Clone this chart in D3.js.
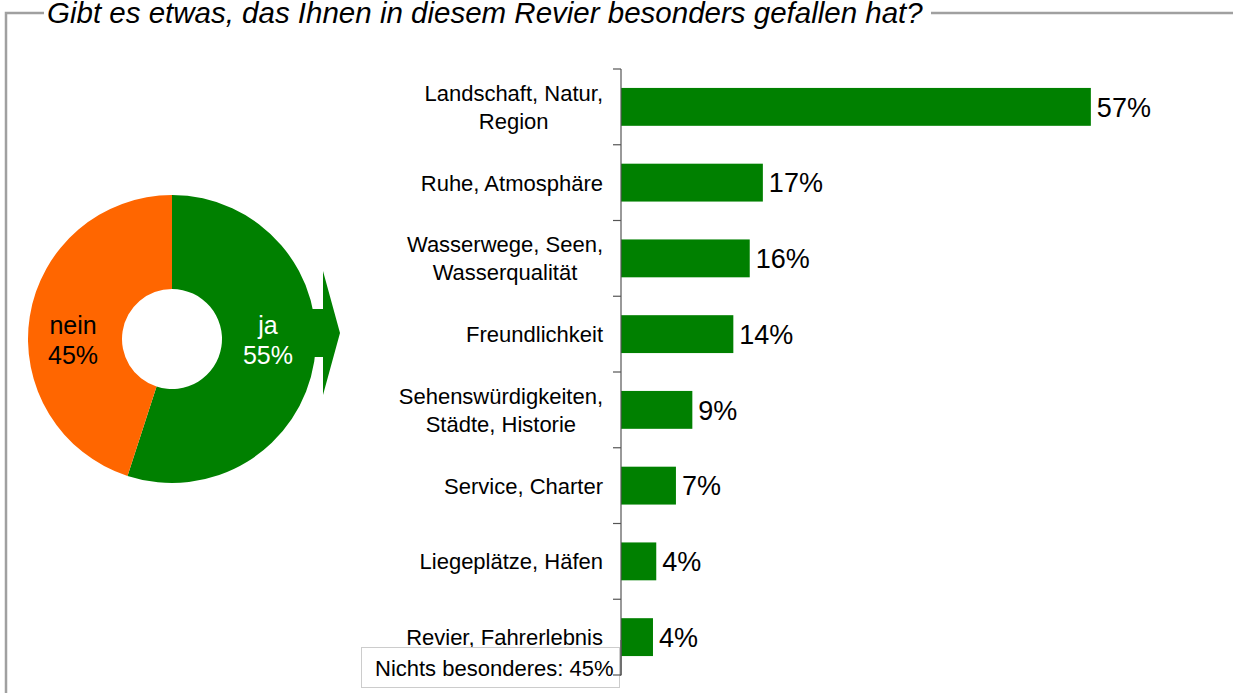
<!DOCTYPE html>
<html><head><meta charset="utf-8">
<script src="https://cdn.jsdelivr.net/npm/d3@7"></script>
<style>
html,body{margin:0;padding:0;background:#fff;}
svg{display:block;font-family:"Liberation Sans",Arial,sans-serif;}
</style></head>
<body>
<svg id="chart" width="1233" height="693"></svg>
<script>
// ---- data ----
const titleText = "Gibt es etwas, das Ihnen in diesem Revier besonders gefallen hat?";
const categories = [
  "Landschaft, Natur,\nRegion",
  "Ruhe, Atmosphäre",
  "Wasserwege, Seen,\nWasserqualität",
  "Freundlichkeit",
  "Sehenswürdigkeiten,\nStädte, Historie",
  "Service, Charter",
  "Liegeplätze, Häfen",
  "Revier, Fahrerlebnis"
];
const values = [57.3, 17.3, 15.7, 13.7, 8.7, 6.7, 4.3, 3.9];
const pieLabels = ["ja", "nein"];
const pieValues = [55, 45];
const noteText = "Nichts besonderes: 45%";

// ---- styles ----
const GREEN = "#008000", ORANGE = "#FF6600", FRAME = "#a0a0a0";

const svg = d3.select("#chart");

// frame
svg.append("path")
  .attr("d", "M6,693 L6,13 L44,13 M931,13 L1233,13")
  .attr("fill", "none").attr("stroke", FRAME).attr("stroke-width", 2.5);

svg.append("text")
  .attr("x", 47).attr("y", 22.5)
  .attr("font-size", 29.5).attr("font-style", "italic")
  .attr("fill", "#000")
  .text(titleText);

// ---- bar chart ----
const x = d3.scaleLinear().domain([0, 70]).range([621, 621 + 574]);
const y = d3.scaleBand().domain(categories).range([69, 675]).paddingInner(0.5).paddingOuter(0.25);

const g = svg.append("g");
g.selectAll("rect.bar").data(categories).join("rect")
  .attr("class", "bar")
  .attr("x", x(0))
  .attr("y", d => y(d))
  .attr("width", (d, i) => x(values[i]) - x(0))
  .attr("height", y.bandwidth())
  .attr("fill", GREEN);

// axis line and boundary ticks
const step = y.step();
const y0 = y.range()[0];
g.append("line").attr("x1", x(0)).attr("x2", x(0)).attr("y1", y0).attr("y2", y.range()[1])
  .attr("stroke", "#555").attr("stroke-width", 1.2);
g.selectAll("line.tick").data(d3.range(categories.length + 1)).join("line")
  .attr("class", "tick")
  .attr("x1", x(0) - 8).attr("x2", x(0))
  .attr("y1", i => y0 + i * step).attr("y2", i => y0 + i * step)
  .attr("stroke", "#555").attr("stroke-width", 1.2);

// category labels (multi-line blocks: lines centred, block right-aligned)
const lineH = 28;
const labelRight = x(0) - 18;
categories.forEach((c, i) => {
  const lines = c.split("\n");
  const cy = y(c) + y.bandwidth() / 2;
  const t = g.append("text")
    .attr("text-anchor", "middle")
    .attr("font-size", 22).attr("fill", "#000");
  const spans = lines.map((ln, k) => t.append("tspan")
      .attr("y", cy + (k - (lines.length - 1) / 2) * lineH)
      .attr("dy", "0.36em")
      .text(ln));
  const maxW = d3.max(spans, s => s.node().getComputedTextLength());
  spans.forEach(s => s.attr("x", labelRight - maxW / 2));
});

// value labels
g.selectAll("text.val").data(categories).join("text")
  .attr("class", "val")
  .attr("x", (d, i) => x(values[i]) + 6)
  .attr("y", d => y(d) + y.bandwidth() / 2)
  .attr("dy", "0.36em")
  .attr("font-size", 27).attr("fill", "#000")
  .text((d, i) => Math.round(values[i]) + "%");

// note box
const note = svg.append("g");
note.append("rect").attr("x", 361.5).attr("y", 647.5).attr("width", 258).attr("height", 40)
  .attr("fill", "#fff").attr("stroke", "#cccccc").attr("stroke-width", 1);
note.append("text").attr("x", 375).attr("y", 676).attr("font-size", 22).attr("fill", "#000").text(noteText);
svg.append("line").attr("x1", x(0)).attr("x2", x(0)).attr("y1", 640).attr("y2", 675.5)
  .attr("stroke", "#555").attr("stroke-width", 1.2);
svg.append("line").attr("x1", x(0) - 8).attr("x2", x(0)).attr("y1", 675).attr("y2", 675)
  .attr("stroke", "#555").attr("stroke-width", 1.2);

// ---- donut ----
const cx = 172, cy = 339;
const pg = svg.append("g").attr("transform", `translate(${cx},${cy})`);

// arrow (behind donut)
const arrow = d3.path();
arrow.moveTo(290 - cx, 309 - cy);
arrow.lineTo(323 - cx, 309 - cy);
arrow.lineTo(323 - cx, 271 - cy);
arrow.lineTo(340 - cx, 333 - cy);
arrow.lineTo(323 - cx, 395 - cy);
arrow.lineTo(323 - cx, 357 - cy);
arrow.lineTo(290 - cx, 357 - cy);
arrow.closePath();
pg.append("path").attr("d", arrow.toString()).attr("fill", GREEN);

const pie = d3.pie().sort(null).value(d => d)(pieValues);
const arc = d3.arc().innerRadius(50).outerRadius(144);
pg.selectAll("path.slice").data(pie).join("path")
  .attr("class", "slice")
  .attr("d", arc)
  .attr("fill", (d, i) => i === 0 ? GREEN : ORANGE);

const labelPos = [[268 - cx, 0], [73 - cx, 0]];
pie.forEach((d, i) => {
  const t = pg.append("text").attr("text-anchor", "middle").attr("font-size", 25)
    .attr("fill", i === 0 ? "#fff" : "#000");
  t.append("tspan").attr("x", labelPos[i][0]).attr("y", 334 - cy).text(pieLabels[i]);
  t.append("tspan").attr("x", labelPos[i][0]).attr("y", 364 - cy).text(pieValues[i] + "%");
});
</script>
</body></html>
